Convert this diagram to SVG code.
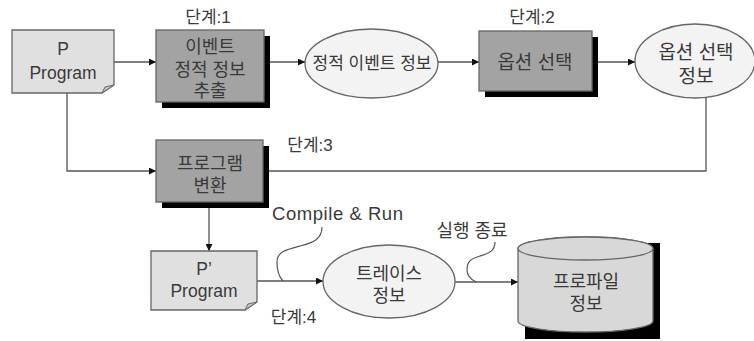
<svg xmlns="http://www.w3.org/2000/svg" width="754" height="341" viewBox="0 0 754 341">
<defs>
<style>
text{font-family:"Liberation Sans","Noto Sans CJK KR",sans-serif;fill:#3a3a3a;text-anchor:middle}
.lbl{font-size:17px}
.t18{font-size:18px}
.t19{font-size:19px}
.doc{fill:#e0e0e0;stroke:#666;stroke-width:1.3}
.fold{fill:#c8c8c8;stroke:#666;stroke-width:1}
.box{fill:#a3a3a3;stroke:#666;stroke-width:1.3}
.shadow{fill:#000}
.ell{fill:#f3f3f3;stroke:#666;stroke-width:1.3}
.cyl{fill:#d8d8d8;stroke:#666;stroke-width:1.3}
.conn{fill:none;stroke:#555;stroke-width:1.3}
.squig{fill:none;stroke:#555;stroke-width:1.2}
</style>
<marker id="arr" viewBox="0 0 10 10" refX="10" refY="5" markerWidth="7" markerHeight="7" markerUnits="userSpaceOnUse" orient="auto">
<path d="M0,0 L10,5 L0,10 Z" fill="#111"/>
</marker>
</defs>
<rect width="754" height="341" fill="#fff"/>

<g id="connectors">
<path class="conn" d="M114,62 H156" marker-end="url(#arr)"/>
<path class="conn" d="M269,62 H305" marker-end="url(#arr)"/>
<path class="conn" d="M438,62 H479" marker-end="url(#arr)"/>
<path class="conn" d="M597,62 H635" marker-end="url(#arr)"/>
<path class="conn" d="M706,98 V171 H264"/>
<path class="conn" d="M67,93 V171 H156" marker-end="url(#arr)"/>
<path class="conn" d="M209,208 V251" marker-end="url(#arr)"/>
<path class="conn" d="M257,281 H323" marker-end="url(#arr)"/>
<path class="conn" d="M455,282 H518" marker-end="url(#arr)"/>
<path class="squig" d="M322,227 C322,240 312,243 300,246 C285,250 277,252 277,262 C277,272 280,278 283,281"/>
<path class="squig" d="M495,242 C495,252 487,254 480,256 C470,259 467,262 467,270 C467,276 472,280 476,282"/>
</g>

<g id="p-program">
<path class="doc" d="M12,30 H114 V85 L102,93 H12 Z"/>
<path class="fold" d="M102,93 L105,87 L114,85 Z"/>
<text x="63" y="55" style="font-size:17.5px">P</text>
<text x="63" y="79" style="font-size:17.5px">Program</text>
</g>

<g id="step1">
<text class="lbl" x="208" y="23">단계:1</text>
<rect class="shadow" x="162" y="36" width="108" height="72"/>
<rect class="box" x="156" y="30" width="108" height="72"/>
<text class="t18" x="210" y="53">이벤트</text>
<text class="t18" x="210" y="76">정적 정보</text>
<text class="t18" x="210" y="97">추출</text>
</g>

<g id="static-event-info">
<ellipse class="ell" cx="371.5" cy="63.5" rx="66.5" ry="34.5"/>
<text x="372" y="69" style="font-size:17px">정적 이벤트 정보</text>
</g>

<g id="step2">
<text class="lbl" x="532" y="23">단계:2</text>
<rect class="shadow" x="485" y="37" width="113" height="60"/>
<rect class="box" x="479" y="31" width="113" height="60"/>
<text class="t19" x="535" y="69">옵션 선택</text>
</g>

<g id="option-info">
<ellipse class="ell" cx="695" cy="61" rx="60" ry="37"/>
<text class="t19" x="696" y="59">옵션 선택</text>
<text class="t19" x="696" y="83">정보</text>
</g>

<g id="step3">
<text class="lbl" x="310" y="151">단계:3</text>
<rect class="shadow" x="162" y="146" width="107" height="62"/>
<rect class="box" x="156" y="140" width="107" height="62"/>
<text class="t18" x="210" y="170">프로그램</text>
<text class="t18" x="210" y="192">변환</text>
</g>

<g id="p-prime-program">
<path class="doc" d="M151,251 H257 V302 L245,310 H151 Z"/>
<path class="fold" d="M245,310 L248,304 L257,302 Z"/>
<text x="204" y="275" style="font-size:17.5px">P’</text>
<text x="204" y="297" style="font-size:17.5px">Program</text>
</g>

<g id="trace-info">
<text x="337.5" y="220" style="font-size:18.5px" textLength="131" lengthAdjust="spacing">Compile &amp; Run</text>
<text class="lbl" x="293.5" y="323">단계:4</text>
<ellipse class="ell" cx="389" cy="281.5" rx="66" ry="36.5"/>
<text class="t18" x="389" y="280">트레이스</text>
<text class="t18" x="389" y="302">정보</text>
</g>

<g id="profile-info">
<text class="t18" x="472" y="237">실행 종료</text>
<rect class="shadow" x="525" y="243" width="135" height="96"/>
<path class="cyl" d="M518,248.5 V321 A67.5,11 0 0 0 653,321 V248.5 A67.5,11.5 0 0 0 518,248.5 Z"/>
<ellipse class="cyl" cx="585.5" cy="248.5" rx="67.5" ry="11.5"/>
<text class="t18" x="586" y="288">프로파일</text>
<text class="t18" x="586" y="310">정보</text>
</g>
</svg>
